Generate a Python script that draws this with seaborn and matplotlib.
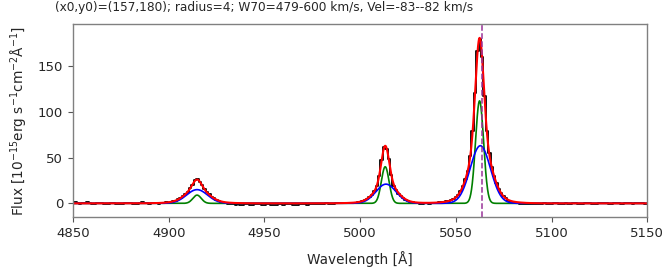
import numpy as np
import pandas as pd
import matplotlib
matplotlib.use('Agg')
import matplotlib.pyplot as plt
import seaborn as sns

sns.set_theme(style='ticks')
plt.rcParams['font.family'] = ['DejaVu Sans']

# observed spectrum, 1.25 A sampling from 4850 to 5150
wave_start, wave_step = 4850.0, 1.25
flux_blue_cont = [0.8, 1.1, 0.4, -0.2, 0.3, 0.9, 1.4, 0.6, -0.3, -0.6,
                  0.2, 0.7, 0.1, -0.4, -0.9, -0.5, 0.3, 0.6, -0.2, -0.7,
                  -1.0, -0.6, -0.1, 0.4, 0.2, -0.5, -0.8, -0.3, 0.5, 1.0,
                  0.6, -0.1, -0.4, 0.2, 0.7, 0.3, -0.2, 0.1]
flux_hbeta = [0.3, 1.2, 0.8, 1.9, 2.6, 3.0, 4.9, 5.7, 8.3, 10.6,
              12.2, 17.1, 20.0, 25.9, 27.0, 23.0, 19.9, 15.8, 12.5, 10.1,
              7.0, 5.9, 3.6, 2.7, 1.6, 0.9, 0.4, -0.3, -0.8]
flux_mid_cont = [-1.1, -1.5, -0.9, -1.3, -1.8, -1.2, -0.7, -1.4, -1.6, -1.0,
                 -0.6, -1.2, -1.7, -1.3, -0.8, -1.1, -1.5, -1.9, -1.4, -0.9,
                 -1.2, -1.6, -1.1, -0.7, -1.0, -1.4, -1.8, -1.3, -0.8, -0.5,
                 -0.9, -1.3, -1.0, -0.6, -0.2, -0.7, -1.1, -0.8, -0.4, 0.1,
                 -0.3, -0.6, -0.2, 0.3, 0.6, 0.2, -0.1, 0.4, 0.8, 0.5]
flux_oiii4959 = [0.2, 0.6, 1.0, 1.4, 2.1, 3.2, 4.6, 7.4, 9.1, 13.8,
                 19.5, 30.4, 47.2, 61.5, 59.8, 48.0, 31.2, 19.4, 14.1, 10.4,
                 7.6, 5.5, 3.9, 2.4, 1.5, 1.1, 0.4, 0.1, -0.2]
flux_gap = [-0.5, -0.1, 0.3, -0.2, 0.4, 0.2]
flux_oiii5007 = [0.5, 1.2, 1.0, 1.8, 2.3, 2.9, 3.5, 5.1, 6.8, 9.6,
                 13.5, 19.2, 26.4, 35.6, 51.5, 78.8, 120.5, 166.0, 179.5, 160.5,
                 117.8, 79.3, 54.6, 39.6, 29.5, 22.4, 15.7, 11.2, 7.8, 5.4,
                 3.1, 2.0, 1.2, 0.6, 0.1, -0.4, -0.6]
flux_red_cont = [-0.9, -0.4, -1.1, -0.6, -0.2, -0.8, -1.2, -0.5, 0.1, -0.3,
                 -0.9, -0.6, 0.2, -0.1, -0.7, -1.0, -0.4, 0.3, -0.2, -0.6,
                 0.1, 0.5, -0.3, -0.8, -0.2, 0.4, 0.7, 0.1, -0.5, -0.9,
                 -0.3, 0.2, 0.6, 0.9, 0.3, -0.2, -0.6, 0.1, 0.5, -0.1,
                 -0.7, -0.3, 0.4, 0.8, 0.2, -0.4, -0.1, 0.3, 0.6, 0.0,
                 -0.5, -0.2]

flux = np.array(flux_blue_cont + flux_hbeta + flux_mid_cont + flux_oiii4959
                + flux_gap + flux_oiii5007 + flux_red_cont)
wave = wave_start + wave_step * np.arange(len(flux))

# fitted gaussian components: Hbeta, [OIII]4959, [OIII]5007
line_names = ['Hb', 'OIII4959', 'OIII5007']
narrow_center = [4914.8, 5013.1, 5062.4]
narrow_amp = [9.0, 40.0, 112.0]
narrow_sigma = [2.2, 2.0, 2.1]
broad_center = [4914.8, 5013.5, 5062.8]
broad_amp = [15.0, 21.0, 63.0]
broad_sigma = [5.5, 5.3, 5.3]
wing_amp = [2.0, 2.0, 6.0]
wing_sigma = [11.0, 11.0, 11.0]
v_sys = 5063.6

title = '(x0,y0)=(157,180); radius=4; W70=479-600 km/s, Vel=-83--82 km/s'


def gauss(x, a, c, s):
    return a * np.exp(-0.5 * ((x - c) / s) ** 2)


xfine = np.linspace(4850, 5150, 3001)
narrow = sum(gauss(xfine, a, c, s) for a, c, s in zip(narrow_amp, narrow_center, narrow_sigma))
broad = sum(gauss(xfine, a, c, s) for a, c, s in zip(broad_amp, broad_center, broad_sigma))
wing = sum(gauss(xfine, a, c, s) for a, c, s in zip(wing_amp, narrow_center, wing_sigma))
total = narrow + broad + wing

data = pd.DataFrame({'wave': wave, 'flux': flux})
model = pd.DataFrame({'wave': xfine, 'narrow': narrow, 'broad': broad, 'total': total})

fig, ax = plt.subplots(figsize=(6.7, 2.7), dpi=100)
fig.subplots_adjust(left=0.109, right=0.966, top=0.911, bottom=0.196)

sns.lineplot(data=data, x='wave', y='flux', ax=ax, color='black', lw=1.3,
             drawstyle='steps-mid', sort=False, estimator=None)
sns.lineplot(data=model, x='wave', y='narrow', ax=ax, color='green', lw=1.2,
             sort=False, estimator=None)
sns.lineplot(data=model, x='wave', y='broad', ax=ax, color='blue', lw=1.2,
             sort=False, estimator=None)
sns.lineplot(data=model, x='wave', y='total', ax=ax, color='red', lw=1.5,
             sort=False, estimator=None)
ax.axvline(v_sys, color='#993399', ls='--', lw=1.1)

ax.set_xlim(4850, 5150)
ax.set_ylim(-15, 196)
ax.set_xticks([4850, 4900, 4950, 5000, 5050, 5100, 5150])
ax.set_yticks([0, 50, 100, 150])
ax.tick_params(labelsize=9.5, length=3.5, width=0.8, color='#555555')
for sp in ax.spines.values():
    sp.set_color('#808080')
    sp.set_linewidth(1.0)

ax.set_xlabel('Wavelength [Å]', fontsize=9.8, labelpad=8)
ax.set_ylabel('Flux [10$^{-15}$erg s$^{-1}$cm$^{-2}$Å$^{-1}$]', fontsize=9.8, labelpad=6)
fig.text(55 / 670, 1 - 11 / 270, title, ha='left', va='baseline', fontsize=8.7)

plt.savefig('out.png', dpi=100)
